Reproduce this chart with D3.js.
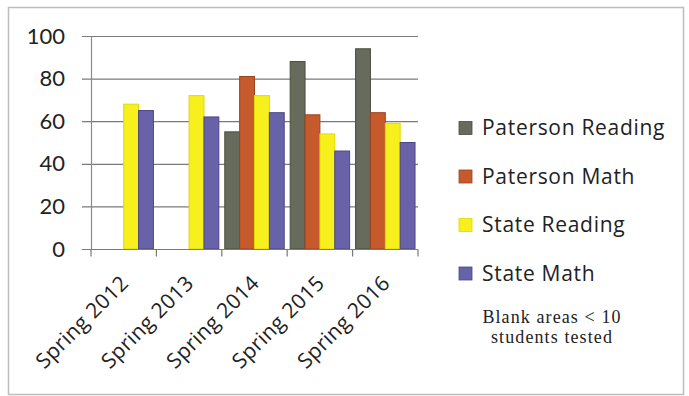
<!DOCTYPE html>
<html><head><meta charset="utf-8">
<script src="https://cdn.jsdelivr.net/npm/d3@7"></script>
<style>body{margin:0;background:#fff;} svg{display:block;}</style>
</head><body>
<svg id="c" width="689" height="396"></svg>
<script>
const categories = ["Spring 2012","Spring 2013","Spring 2014","Spring 2015","Spring 2016"];
const seriesNames = ["Paterson Reading","Paterson Math","State Reading","State Math"];
const patersonReading = [null, null, 55, 88, 94];
const patersonMath    = [null, null, 81, 63, 64];
const stateReading    = [68, 72, 72, 54, 59];
const stateMath       = [65, 62, 64, 46, 50];
const yTicks = [0,20,40,60,80,100];
const colors = ["#666b5b","#c65a2c","#f7f01c","#6862a8"];
const strokes = ["#4a4d40","#9a4420","#e0d800","#4d4885"];
const noteLines = ["Blank areas < 10","students tested"];

const series = [patersonReading, patersonMath, stateReading, stateMath];
const svg = d3.select("#c");
const font = "Lato, 'Open Sans', sans-serif";
const font2 = "'Open Sans', Lato, sans-serif";

// frame
svg.append("rect").attr("x",8.5).attr("y",7.5).attr("width",675).attr("height",387)
  .attr("fill","#fff").attr("stroke","#bdbdbd").attr("stroke-width",1.5);

const x0 = d3.scaleBand().domain(categories).range([91,418]).paddingInner(0).paddingOuter(0);
const x1 = d3.scaleBand().domain(seriesNames).range([0,x0.bandwidth()]).paddingOuter(0.2).paddingInner(0);
const y = d3.scaleLinear().domain([0,100]).range([249,36]);

// gridlines
svg.append("g").selectAll("line").data(yTicks).join("line")
  .attr("x1",82).attr("x2",418).attr("y1",d=>y(d)+0.5).attr("y2",d=>y(d)+0.5)
  .attr("stroke","#7a7a7a").attr("stroke-width",1.2);

// y axis
const yAxis = svg.append("g").attr("transform","translate(91,0)")
  .call(d3.axisLeft(y).tickValues(yTicks).tickSize(0).tickPadding(26));
yAxis.select(".domain").attr("stroke","#8a8a8a").attr("stroke-width",1.2);
yAxis.selectAll("text").attr("font-family",font).attr("font-size",22).attr("fill","#222");

// bars
const g = svg.append("g");
categories.forEach((c,i)=>{
  series.forEach((s,j)=>{
    const v = s[i];
    if(v==null) return;
    g.append("rect")
      .attr("x",x0(c)+x1(seriesNames[j]))
      .attr("y",y(v))
      .attr("width",x1.bandwidth())
      .attr("height",y(0)-y(v))
      .attr("fill",colors[j]).attr("stroke",strokes[j]).attr("stroke-width",1);
  });
});

// x axis
const xAxis = svg.append("g").attr("transform",`translate(0,${y(0)+0.5})`);
xAxis.append("line").attr("x1",82).attr("x2",418).attr("stroke","#7a7a7a").attr("stroke-width",1.2);
const bounds = categories.map(c=>x0(c)).concat([x0.range()[1]]);
xAxis.selectAll(".tk").data(bounds).join("line").attr("class","tk")
  .attr("x1",d=>d).attr("x2",d=>d).attr("y1",0).attr("y2",7).attr("stroke","#7a7a7a").attr("stroke-width",1.2);
xAxis.selectAll(".lbl").data(categories).join("text").attr("class","lbl")
  .attr("transform",d=>`translate(${x0(d)+x0.bandwidth()/2+6},${35}) rotate(-45)`)
  .attr("text-anchor","end")
  .attr("font-family",font2).attr("font-size",21).attr("letter-spacing",0.4).attr("fill","#222")
  .text(d=>d);

// legend
const lg = svg.append("g");
seriesNames.forEach((n,j)=>{
  const cy = 128 + j*48.5;
  lg.append("rect").attr("x",459).attr("y",cy-6.5).attr("width",13).attr("height",13)
    .attr("fill",colors[j]).attr("stroke",strokes[j]).attr("stroke-width",0.8);
  lg.append("text").attr("x",482).attr("y",cy).attr("dy","0.35em")
    .attr("font-family",font2).attr("font-size",21).attr("letter-spacing",0.7).attr("fill","#222").text(n);
});
noteLines.forEach((t,k)=>{
  lg.append("text").attr("x",552).attr("y",323+k*20).attr("text-anchor","middle")
    .attr("font-family","'Liberation Serif', serif").attr("font-size",18).attr("letter-spacing",1.1).attr("fill","#222").text(t);
});
</script>
</body></html>
